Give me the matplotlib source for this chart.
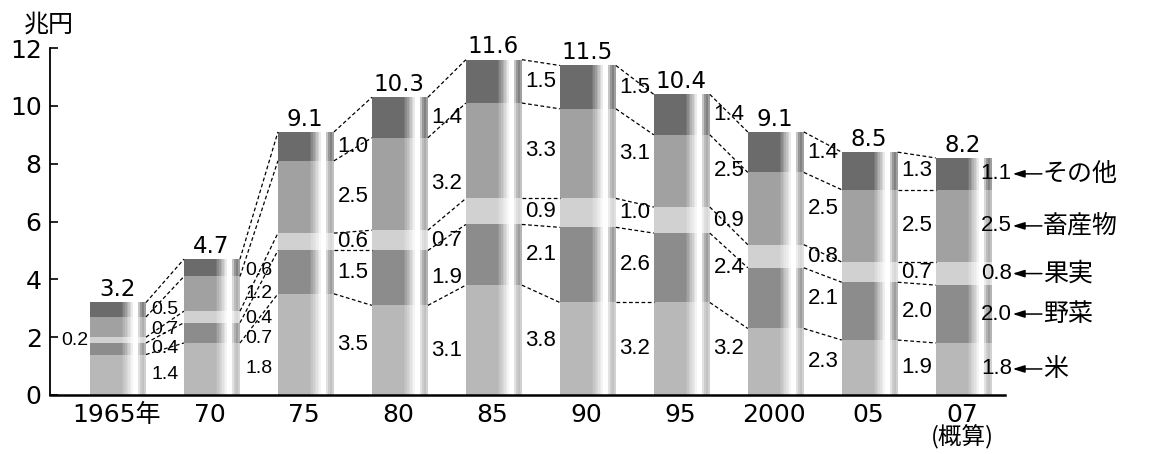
import matplotlib.pyplot as plt
import numpy as np

# data (兆円)
years = ['1965年', '70', '75', '80', '85', '90', '95', '2000', '05', '07']
rice = [1.4, 1.8, 3.5, 3.1, 3.8, 3.2, 3.2, 2.3, 1.9, 1.8]
veg = [0.4, 0.7, 1.5, 1.9, 2.1, 2.6, 2.4, 2.1, 2.0, 2.0]
fruit = [0.2, 0.4, 0.6, 0.7, 0.9, 1.0, 0.9, 0.8, 0.7, 0.8]
livestock = [0.7, 1.2, 2.5, 3.2, 3.3, 3.1, 2.5, 2.5, 2.5, 2.5]
other = [0.5, 0.6, 1.0, 1.4, 1.5, 1.5, 1.4, 1.4, 1.3, 1.1]
totals = [3.2, 4.7, 9.1, 10.3, 11.6, 11.5, 10.4, 9.1, 8.5, 8.2]
names = ['米', '野菜', '果実', '畜産物', 'その他']

series = [rice, veg, fruit, livestock, other]
grays = [0.72, 0.55, 0.82, 0.63, 0.42]

num_font = ['Liberation Sans Narrow', 'Liberation Sans', 'DejaVu Sans']
tick_font = ['DejaVu Sans']
jp_font = ['Noto Sans CJK JP', 'DejaVu Sans']

fig = plt.figure(figsize=(11.53, 4.54), dpi=100)
ax = fig.add_axes([0.0434, 0.130, 0.828, 0.764])

x = np.arange(len(years))
hw = 0.229          # half width of bar body
solid_r = 0.11      # where the right-side highlight starts
strip_l, strip_r = 0.285, 0.367


def shade(g, t):
    v = g + (1 - g) * t
    return (v, v, v)


data = np.array(series)
cum = np.vstack([np.zeros(len(x)), np.cumsum(data, axis=0)])

for k, vals in enumerate(series):
    g = grays[k]
    bottoms = cum[k]
    # solid body
    ax.bar(x - hw + (solid_r + hw) / 2, vals, width=solid_r + hw, bottom=bottoms,
           color=shade(g, 0), linewidth=0)
    # right highlight gradient
    steps = np.linspace(0.08, 0.85, 7)
    sw = (hw - solid_r) / len(steps)
    for j, t in enumerate(steps):
        ax.bar(x + solid_r + sw * (j + 0.5), vals, width=sw, bottom=bottoms,
               color=shade(g, t), linewidth=0)
    # thin strip at the right
    strip_t = [0.6, 0.3, 0.15, 0.35]
    stw = (strip_r - strip_l) / len(strip_t)
    for j, t in enumerate(strip_t):
        ax.bar(x + strip_l + stw * (j + 0.5), vals, width=stw, bottom=bottoms,
               color=shade(g, t), linewidth=0)

# dashed connectors between bars
for i in range(len(x) - 1):
    for k in range(1, 6):
        ax.plot([x[i] + strip_r, x[i + 1] - hw], [cum[k][i], cum[k][i + 1]],
                color='black', lw=0.9, ls=(0, (3, 2)))

# label y positions that were nudged in the original to avoid crowding
nudge = {(0, 1): 1.6, (0, 3): 2.28, (0, 4): 2.97, (1, 1): 1.97, (1, 2): 2.66,
         (1, 3): 3.5, (1, 4): 4.32}

# segment value labels
last = len(x) - 1
for i in range(len(x)):
    for k, vals in enumerate(series):
        mid = nudge.get((i, k), (cum[k][i] + cum[k + 1][i]) / 2)
        fs = 14 if i < 2 else 16
        if i == 0 and k == 2:
            ax.text(x[i] - 0.39, mid, f'{vals[i]:.1f}', ha='center', va='center',
                    fontsize=fs, family=num_font, clip_on=False)
        elif i == last:
            ax.text(x[i] + 0.58, mid, f'{vals[i]:.1f}', ha='right', va='center',
                    fontsize=fs, family=num_font, clip_on=False)
        else:
            ax.text(x[i] + 0.57, mid, f'{vals[i]:.1f}', ha='center', va='center',
                    fontsize=fs, family=num_font, clip_on=False)

# totals on top
for i, t in enumerate(totals):
    ax.text(x[i] + 0.06, cum[5][i] + 0.22, f'{t:.1f}', ha='center', va='baseline',
            fontsize=16.5, family=tick_font, clip_on=False)

# legend arrows for the last bar
for k, nm in enumerate(names):
    mid = (cum[k][last] + cum[k + 1][last]) / 2
    ax.annotate('', xy=(x[last] + 0.59, mid), xytext=(x[last] + 0.9, mid),
                arrowprops=dict(arrowstyle='-|>,head_length=0.7,head_width=0.22',
                                color='black', lw=1.1, shrinkA=0, shrinkB=0),
                annotation_clip=False)
    ax.text(x[last] + 0.91, mid, nm, ha='left', va='center', fontsize=18,
            family=jp_font, clip_on=False)

# axes styling
ax.set_xlim(-0.654, 9.505)
ax.set_ylim(0, 12)
ax.set_yticks(range(0, 13, 2))
ax.set_yticklabels([str(v) for v in range(0, 13, 2)], fontsize=18, family=tick_font)
ax.tick_params(axis='y', direction='in', length=6, width=1.2, pad=6)
ax.set_xticks([])
for s in ['top', 'right']:
    ax.spines[s].set_visible(False)
ax.spines['left'].set_linewidth(1.3)
ax.spines['bottom'].set_linewidth(1.8)

for i, lbl in enumerate(years):
    ax.text(x[i] + 0.05, -0.28, lbl, ha='center', va='top', fontsize=18,
            family=['DejaVu Sans', 'Noto Sans CJK JP'], clip_on=False)
ax.text(x[last] + 0.05, -1.04, '(概算)', ha='center', va='top', fontsize=17,
        family=jp_font, clip_on=False)

fig.text(0.0425, 0.945, '兆円', ha='center', va='center', fontsize=18, family=jp_font)

fig.savefig('out.png', dpi=100, facecolor='white')
